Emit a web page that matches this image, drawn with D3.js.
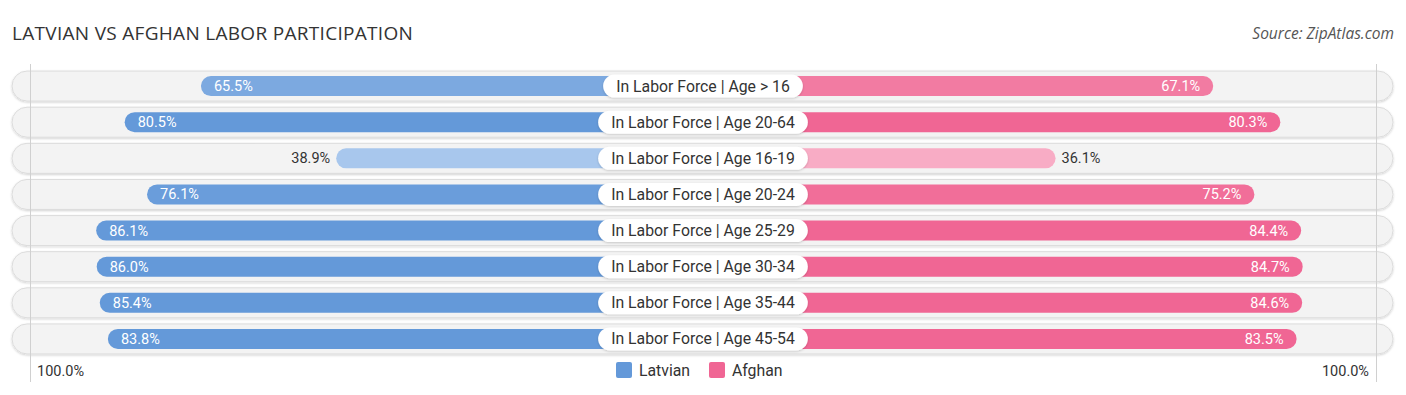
<!DOCTYPE html>
<html><head><meta charset="utf-8">
<script src="https://cdn.jsdelivr.net/npm/d3@7"></script>
<style>body{margin:0;background:#fff}svg{display:block}</style>
</head><body>
<svg id="c" width="1406" height="395"></svg>
<script>
const categories = ["In Labor Force | Age > 16","In Labor Force | Age 20-64","In Labor Force | Age 16-19","In Labor Force | Age 20-24","In Labor Force | Age 25-29","In Labor Force | Age 30-34","In Labor Force | Age 35-44","In Labor Force | Age 45-54"];
const latvian = [65.5,80.5,38.9,76.1,86.1,86.0,85.4,83.8];
const afghan = [67.1,80.3,36.1,75.2,84.4,84.7,84.6,83.5];
const seriesNames = ["Latvian","Afghan"];
const axisLabels = ["100.0%","100.0%"];

const svg = d3.select("#c");
const W = 1406, cx = 703, inner = 169;
const len = d3.scaleLinear().domain([0,100]).range([0,508.5]);
const y = d3.scaleBand().domain(categories).range([68, 357]).paddingInner(0);
const rowH = 30, barH = 20;
const blue = d3.scaleLinear().domain([35,80]).range(["#aecbef","#6499d9"]).clamp(true);
const pink = d3.scaleLinear().domain([35,80]).range(["#f8aec6","#f06694"]).clamp(true);

svg.append("text").attr("x",12).attr("y",40).text("LATVIAN VS AFGHAN LABOR PARTICIPATION")
  .attr("font-family","'Open Sans',sans-serif").attr("font-size",19).attr("fill","#333").attr("letter-spacing","0.3");
svg.append("text").attr("x",1394).attr("y",39).attr("text-anchor","end").text("Source: ZipAtlas.com")
  .attr("font-family","'Open Sans',sans-serif").attr("font-size",15.5).attr("font-style","italic").attr("fill","#555");

const defs = svg.append("defs");
const f = defs.append("filter").attr("id","sh").attr("x","-5%").attr("y","-30%").attr("width","110%").attr("height","160%");
f.append("feDropShadow").attr("dx",0).attr("dy",1).attr("stdDeviation",1).attr("flood-color","#000").attr("flood-opacity",0.18);

const rows = svg.append("g").selectAll("g").data(categories).join("g")
  .attr("transform", d => `translate(0,${y(d)+y.bandwidth()/2})`);
rows.append("rect").attr("x",12).attr("y",-rowH/2).attr("width",1381).attr("height",rowH)
  .attr("rx",15).attr("fill","#f3f3f3").attr("stroke","#dcdcdc").attr("stroke-width",1).attr("filter","url(#sh)");

// grid lines
[30.5, 1376.5].forEach(x => {
  svg.append("line").attr("x1",x).attr("x2",x).attr("y1",64).attr("y2",382).attr("stroke","#d0d0d0").attr("stroke-width",1);
});

const bars = svg.append("g").selectAll("g").data(categories).join("g")
  .attr("transform", d => `translate(0,${y(d)+y.bandwidth()/2})`);
bars.each(function(d,i){
  const g = d3.select(this);
  const lv = latvian[i], av = afghan[i];
  const lx = cx - inner - len(lv);
  g.append("rect").attr("x",lx).attr("y",-barH/2).attr("width",cx-lx).attr("height",barH).attr("rx",barH/2).attr("fill",blue(lv));
  const rx2 = cx + inner + len(av);
  g.append("rect").attr("x",cx).attr("y",-barH/2).attr("width",rx2-cx).attr("height",barH).attr("rx",barH/2).attr("fill",pink(av));
  const inL = lv > 50, inR = av > 50;
  g.append("text").attr("x", inL ? lx+13 : lx-6).attr("y",5).attr("text-anchor", inL?"start":"end")
    .text(lv.toFixed(1)+"%").attr("font-family","Roboto,sans-serif").attr("font-size",14.5)
    .attr("fill", inL?"#fff":"#333");
  g.append("text").attr("x", inR ? rx2-13 : rx2+6).attr("y",5).attr("text-anchor", inR?"end":"start")
    .text(av.toFixed(1)+"%").attr("font-family","Roboto,sans-serif").attr("font-size",14.5)
    .attr("fill", inR?"#fff":"#333");
  const t = g.append("text").attr("x",cx).attr("y",5.5).attr("text-anchor","middle").text(d)
    .attr("font-family","Roboto,sans-serif").attr("font-size",15.8).attr("fill","#333");
  const w = t.node().getComputedTextLength();
  g.insert("rect","text:last-of-type").attr("x",cx-w/2-13).attr("y",-11.5).attr("width",w+26).attr("height",23)
    .attr("rx",11.5).attr("fill","#fff").attr("filter","url(#sh)");
});

svg.append("text").attr("x",37).attr("y",376).text(axisLabels[0]).attr("font-family","Roboto,sans-serif").attr("font-size",14.5).attr("fill","#333");
svg.append("text").attr("x",1369).attr("y",376).attr("text-anchor","end").text(axisLabels[1]).attr("font-family","Roboto,sans-serif").attr("font-size",14.5).attr("fill","#333");

const leg = [{n:seriesNames[0],c:"#6499d9",x:616},{n:seriesNames[1],c:"#f06694",x:709}];
leg.forEach(l => {
  svg.append("rect").attr("x",l.x).attr("y",362).attr("width",16).attr("height",16).attr("rx",2).attr("fill",l.c);
  svg.append("text").attr("x",l.x+23).attr("y",376).text(l.n).attr("font-family","Roboto,sans-serif").attr("font-size",15.8).attr("fill","#333");
});
</script>
</body></html>
